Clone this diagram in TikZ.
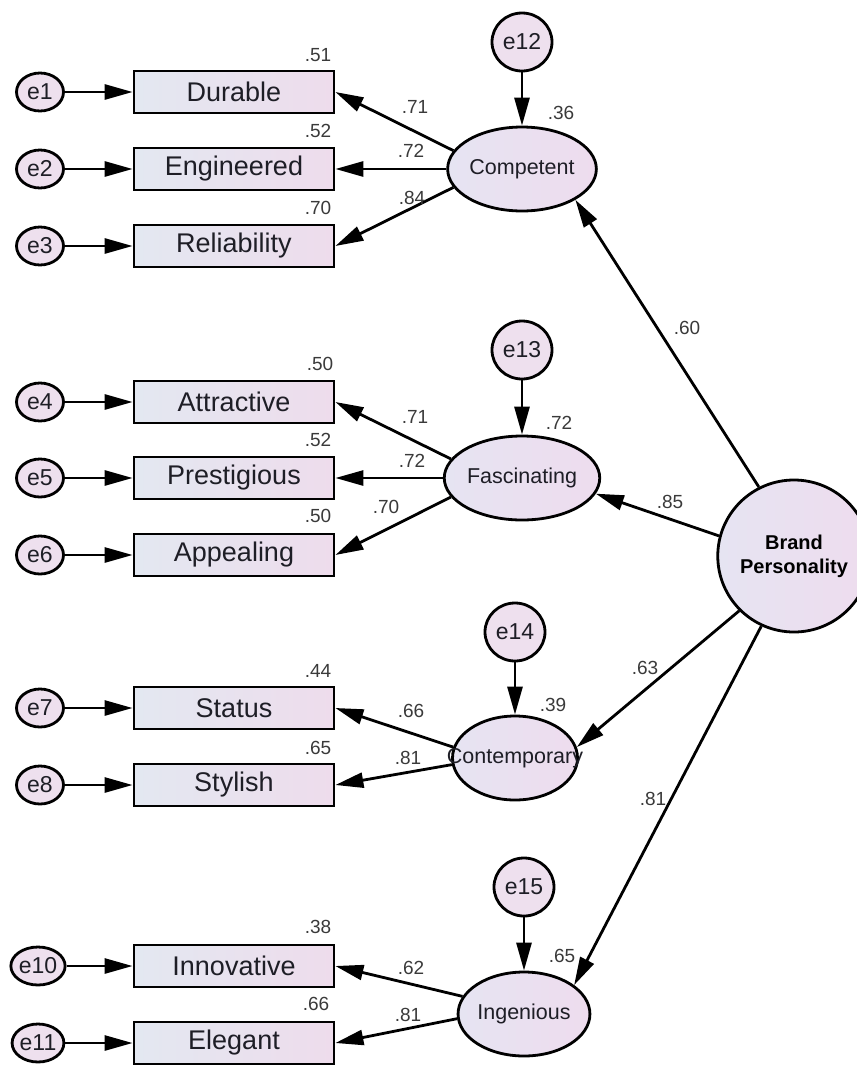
\documentclass[tikz,border=0pt]{standalone}
\usepackage{fontspec}
\setmainfont{Liberation Sans}
\usetikzlibrary{shapes.geometric,arrows.meta}
\definecolor{boxL}{HTML}{E3E8F1}
\definecolor{boxR}{HTML}{EEDCEC}
\definecolor{latL}{HTML}{E6E4F2}
\definecolor{latR}{HTML}{EEDCEE}
\definecolor{errF}{HTML}{EEE0EE}
\definecolor{txt}{HTML}{1E1E26}
\definecolor{numC}{HTML}{3A3A3A}
\begin{document}
\begin{tikzpicture}[x=1pt,y=-1pt,
  ind/.style={draw=black, line width=2.8pt, rectangle, minimum width=200pt,
    minimum height=42pt, inner sep=0pt, left color=boxL, right color=boxR,
    font=\fontsize{27}{31}\selectfont, text=txt},
  lat/.style={draw=black, line width=2.8pt, ellipse, minimum width=125pt,
    minimum height=84pt, inner sep=0pt, left color=latL, right color=latR,
    font=\fontsize{21.5}{25}\selectfont, text=txt},
  err/.style={draw=black, line width=2.8pt, ellipse, minimum width=47pt,
    minimum height=38pt, inner sep=0pt, fill=errF,
    font=\fontsize{23}{27}\selectfont, text=txt},
  bigerr/.style={err, minimum width=60pt, minimum height=58pt},
  arr/.style={line width=2.8pt, -{Triangle[length=28pt,width=15pt]}},
  coef/.style={font=\fontsize{19}{22}\selectfont, text=numC, inner sep=0pt},
]
\useasboundingbox (0,0) rectangle (857,1069);

% observed indicators
\node[ind] (dur) at (234,92)  {Durable};
\node[ind] (eng) at (234,169) {Engineered};
\node[ind] (rel) at (234,246) {Reliability};
\node[ind] (att) at (234,402) {Attractive};
\node[ind] (pre) at (234,478) {Prestigious};
\node[ind] (app) at (234,555) {Appealing};
\node[ind] (sta) at (234,708) {Status};
\node[ind] (sty) at (234,785) {Stylish};
\node[ind] (inn) at (234,966) {Innovative};
\node[ind] (ele) at (234,1043) {Elegant};

% measurement errors
\node[err] (e1)  at (40,92)   {e1};
\node[err] (e2)  at (40,169)  {e2};
\node[err] (e3)  at (40,246)  {e3};
\node[err] (e4)  at (40,402)  {e4};
\node[err] (e5)  at (40,478)  {e5};
\node[err] (e6)  at (40,555)  {e6};
\node[err] (e7)  at (40,708)  {e7};
\node[err] (e8)  at (40,785)  {e8};
\node[err] (e10) at (38,966)  {e10};
\node[err] (e11) at (38,1043) {e11};

% first-order factors (long names overflow the fixed-size ellipse)
\node[lat] (comp) at (522,169)  {Competent};
\node[lat] (fasc) at (522,478)  {Fascinating};
\node[lat] (cont) at (515,758)  {\makebox[0pt]{Contemporary}};
\node[lat] (ing)  at (524,1014) {Ingenious};

% disturbances
\node[bigerr] (e12) at (522,42)  {e12};
\node[bigerr] (e13) at (522,350) {e13};
\node[bigerr] (e14) at (515,632) {e14};
\node[bigerr] (e15) at (524,887) {e15};

% second-order factor
\node[lat, minimum width=126pt, minimum height=152pt,
  font=\fontsize{20}{24}\bfseries, text=black, align=center]
  (bp) at (794,556) {Brand\\Personality};

% error paths
\foreach \e/\b in {e1/dur,e2/eng,e3/rel,e4/att,e5/pre,e6/app,e7/sta,e8/sty,e10/inn,e11/ele}
  \draw[arr] (\e) -- (\b);
\draw[arr] (e12) -- (comp);
\draw[arr] (e13) -- (fasc);
\draw[arr] (e14) -- (cont);
\draw[arr] (e15) -- (ing);

% loadings
\draw[arr] (comp.165) -- (dur.east);
\draw[arr] (comp.180) -- (eng.east);
\draw[arr] (comp.195) -- (rel.east);
\draw[arr] (fasc.165) -- (att.east);
\draw[arr] (fasc.180) -- (pre.east);
\draw[arr] (fasc.195) -- (app.east);
\draw[arr] (cont.170) -- (sta.east);
\draw[arr] (cont.186) -- (sty.east);
\draw[arr] (ing.164)  -- (inn.east);
\draw[arr] (ing.184)  -- (ele.east);

% second-order loadings
\draw[arr] (bp.117)  -- (comp.-30);
\draw[arr] (bp.165)  -- (fasc.-12);
\draw[arr] (bp.-135) -- (cont.10);
\draw[arr] (bp.-115) -- (ing.30);

% squared multiple correlations
\node[coef] (r1)  at (318,55)   {.51};
\node[coef] (r2)  at (318,131)  {.52};
\node[coef] (r3)  at (318,208)  {.70};
\node[coef] (r4)  at (320,364)  {.50};
\node[coef] (r5)  at (318,440)  {.52};
\node[coef] (r6)  at (318,516)  {.50};
\node[coef] (r7)  at (318,671)  {.44};
\node[coef] (r8)  at (318,748)  {.65};
\node[coef] (r10) at (318,927)  {.38};
\node[coef] (r11) at (316,1004) {.66};
\node[coef] (r12) at (561,113)  {.36};
\node[coef] (r13) at (559,423)  {.72};
\node[coef] (r14) at (553,705)  {.39};
\node[coef] (r15) at (562,956)  {.65};

% standardized loadings
\node[coef] (l1)  at (415,107)  {.71};
\node[coef] (l2)  at (411,151)  {.72};
\node[coef] (l3)  at (412,198)  {.84};
\node[coef] (l4)  at (415,417)  {.71};
\node[coef] (l5)  at (412,461)  {.72};
\node[coef] (l6)  at (386,507)  {.70};
\node[coef] (l7)  at (411,711)  {.66};
\node[coef] (l8)  at (408,758)  {.81};
\node[coef] (l10) at (411,968)  {.62};
\node[coef] (l11) at (408,1015) {.81};
\node[coef] (g1)  at (687,328)  {.60};
\node[coef] (g2)  at (670,502)  {.85};
\node[coef] (g3)  at (645,668)  {.63};
\node[coef] (g4)  at (653,799)  {.81};
\end{tikzpicture}
\end{document}
